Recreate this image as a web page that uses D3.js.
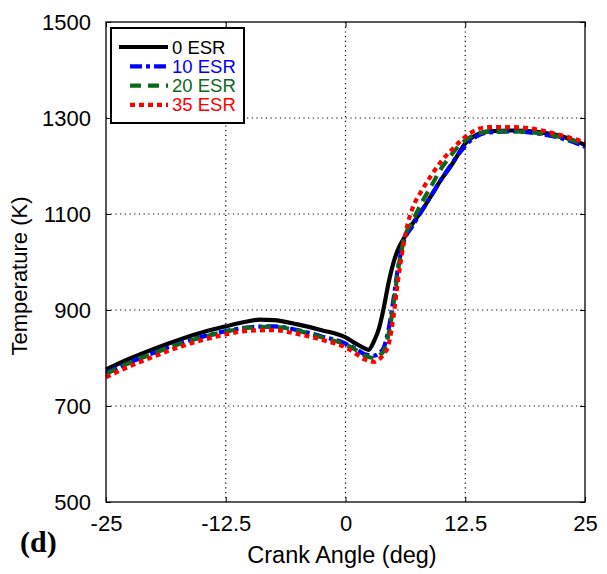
<!DOCTYPE html>
<html>
<head>
<meta charset="utf-8">
<script src="https://cdn.jsdelivr.net/npm/d3@7"></script>
<style>
  body { margin: 0; background: #fff; }
  text { font-family: "Liberation Sans", Arial, sans-serif; }
</style>
</head>
<body>
<svg id="chart" width="607" height="574"></svg>
<script>
// crank angle (deg) and in-cylinder temperature (K) for each ESR case
const angle0  = [-25, -22.5, -20, -17.5, -15, -12.5, -10, -9, -7.5, -5, -2.5, 0, 1, 2, 2.4, 3, 3.5, 4, 4.5, 5, 5.5, 6, 7, 8, 9, 10, 11, 12, 12.5, 13, 14, 15, 17.5, 20, 22.5, 25];
const temp0   = [776, 799, 819, 837, 853, 866, 877, 880, 879, 870, 858, 843, 831, 820, 817, 836, 862, 905, 957, 998, 1027, 1046, 1080, 1108, 1140, 1172, 1200, 1232, 1247, 1256, 1268, 1272, 1274, 1271, 1262, 1244];

const angle10 = [-25, -22.5, -20, -17.5, -15, -12.5, -10, -7.5, -5, -2.5, 0, 1, 2, 3, 3.5, 4, 4.5, 5, 5.5, 6, 7, 8, 9, 10, 11, 12, 13, 14, 15, 17.5, 20, 22.5, 25];
const temp10  = [769, 791, 811, 829, 844, 856, 864, 866, 858, 845, 830, 820, 808, 805, 810, 822, 860, 921, 990, 1037, 1075, 1108, 1140, 1172, 1202, 1230, 1252, 1265, 1270, 1272, 1268, 1258, 1240];

const angle20 = [-25, -22.5, -20, -17.5, -15, -12.5, -10, -7.5, -5, -2.5, 0, 1, 2, 3, 3.5, 4, 4.5, 5, 5.5, 6, 7, 8, 9, 10, 11, 12, 13, 14, 15, 17.5, 20, 22.5, 25];
const temp20  = [767, 790, 810, 828, 843, 855, 863, 865, 857, 843, 828, 818, 805, 800, 805, 815, 850, 910, 985, 1040, 1085, 1125, 1160, 1195, 1222, 1245, 1260, 1268, 1272, 1272, 1269, 1260, 1245];

const angle35 = [-25, -22.5, -20, -17.5, -15, -12.5, -10, -7.5, -5, -2.5, 0, 1, 2, 3, 3.5, 4, 4.5, 5, 5.5, 6, 6.5, 7, 8, 9, 10, 11, 12, 13, 14, 15, 17.5, 20, 22.5, 25];
const temp35  = [760, 783, 803, 822, 837, 849, 857, 858, 850, 838, 822, 810, 797, 792, 797, 808, 828, 885, 965, 1030, 1080, 1112, 1150, 1182, 1210, 1232, 1252, 1268, 1278, 1281, 1281, 1276, 1264, 1250];

const seriesNames = ["0 ESR", "10 ESR", "20 ESR", "35 ESR"];
const xTicks = [-25, -12.5, 0, 12.5, 25];
const xTickLabels = ["-25", "-12.5", "0", "12.5", "25"];
const yTicks = [500, 700, 900, 1100, 1300, 1500];

const series = [
  { name: seriesNames[0], x: angle0,  y: temp0,  color: "#000000", dash: null },
  { name: seriesNames[1], x: angle10, y: temp10, color: "#0000ff", dash: "12,4,4,4" },
  { name: seriesNames[2], x: angle20, y: temp20, color: "#0b6a1a", dash: "11,7" },
  { name: seriesNames[3], x: angle35, y: temp35, color: "#ff0000", dash: "5,4" }
];

const plotL = 106, plotR = 585, plotT = 22, plotB = 502;
const svg = d3.select("#chart");

const x = d3.scaleLinear().domain([-25, 25]).range([plotL, plotR]);
const y = d3.scaleLinear().domain([500, 1500]).range([plotB, plotT]);

// dotted grid
const grid = svg.append("g").attr("stroke", "#000").attr("stroke-width", 1.2).attr("stroke-dasharray", "1.2,3.5");
grid.selectAll(".gx").data(xTicks.slice(1, -1)).join("line")
  .attr("x1", d => x(d)).attr("x2", d => x(d)).attr("y1", plotT).attr("y2", plotB);
grid.selectAll(".gy").data(yTicks.slice(1, -1)).join("line")
  .attr("x1", plotL).attr("x2", plotR).attr("y1", d => y(d)).attr("y2", d => y(d));

// curves
const line = d3.line().x(d => x(d[0])).y(d => y(d[1])).curve(d3.curveMonotoneX);
const plot = svg.append("g");
series.forEach(s => {
  plot.append("path")
    .attr("d", line(d3.zip(s.x, s.y)))
    .attr("fill", "none")
    .attr("stroke", s.color)
    .attr("stroke-width", 4.2)
    .attr("stroke-dasharray", s.dash);
});

// frame
svg.append("rect").attr("x", plotL).attr("y", plotT).attr("width", plotR - plotL).attr("height", plotB - plotT)
  .attr("fill", "none").attr("stroke", "#000").attr("stroke-width", 1.3);

// axes
const xAxis = d3.axisBottom(x).tickValues(xTicks).tickFormat((d, i) => xTickLabels[i]).tickSizeInner(-5).tickSizeOuter(0).tickPadding(13);
const gx = svg.append("g").attr("transform", `translate(0,${plotB})`).call(xAxis);
const yAxis = d3.axisLeft(y).tickValues(yTicks).tickFormat(d3.format("d")).tickSizeInner(-5).tickSizeOuter(0).tickPadding(15);
const gy = svg.append("g").attr("transform", `translate(${plotL},0)`).call(yAxis);
// mirrored ticks on right / top
svg.append("g").attr("transform", `translate(${plotR},0)`)
  .call(d3.axisRight(y).tickValues(yTicks).tickSizeInner(-5).tickSizeOuter(0).tickFormat(""));
svg.append("g").attr("transform", `translate(0,${plotT})`)
  .call(d3.axisTop(x).tickValues(xTicks).tickSizeInner(-5).tickSizeOuter(0).tickFormat(""));
svg.selectAll(".domain").remove();
svg.selectAll(".tick line").attr("stroke", "#000");
[gx, gy].forEach(g => g.selectAll("text").attr("font-size", 22).attr("fill", "#000")
  .style("font-family", "'Liberation Sans', Arial, sans-serif"));

// axis titles
svg.append("text").attr("x", 342).attr("y", 563).attr("text-anchor", "middle")
  .attr("font-size", 23.5).text("Crank Angle (deg)");
svg.append("text").attr("transform", "translate(27,276) rotate(-90)").attr("text-anchor", "middle")
  .attr("font-size", 22).text("Temperature (K)");
svg.append("text").attr("x", 20).attr("y", 552).attr("font-size", 30).attr("font-weight", "bold")
  .style("font-family", "'Liberation Serif', 'Times New Roman', serif").text("(d)");

// legend
const lg = svg.append("g");
lg.append("rect").attr("x", 111).attr("y", 28).attr("width", 133).attr("height", 95)
  .attr("fill", "#fff").attr("stroke", "#000").attr("stroke-width", 2);
series.forEach((s, i) => {
  const cy = 47 + i * 19.3;
  lg.append("line").attr("x1", i === 0 ? 119 : 130).attr("x2", 168).attr("y1", cy).attr("y2", cy)
    .attr("stroke", s.color).attr("stroke-width", 4.2).attr("stroke-dasharray", s.dash);
  lg.append("text").attr("x", 172).attr("y", cy + 6.5).attr("font-size", 18.5)
    .attr("fill", s.color).text(s.name);
});
</script>
</body>
</html>
